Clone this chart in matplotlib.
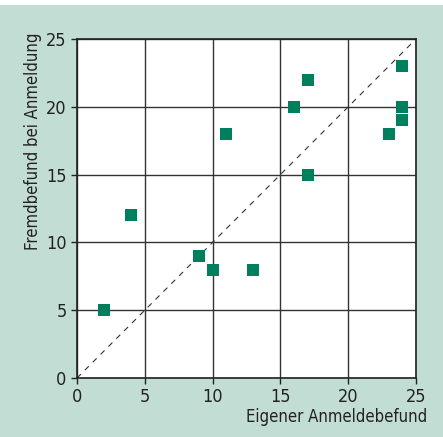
import matplotlib.pyplot as plt
from matplotlib.patches import Rectangle

# Daten
eigen = [2, 4, 9, 10, 11, 13, 16, 17, 17, 23, 24, 24, 24]
fremd = [5, 12, 9, 8, 18, 8, 20, 22, 15, 18, 23, 20, 19]
ticks = [0, 5, 10, 15, 20, 25]

plt.rcParams['font.family'] = ['DejaVu Sans']
plt.rcParams['font.stretch'] = 'condensed'

bg = '#c2ddd4'
fig = plt.figure(figsize=(4.43, 4.37), dpi=100, facecolor=bg)
fig.patches.append(Rectangle((0, 1 - 5 / 437), 1, 5 / 437, transform=fig.transFigure,
                             facecolor='white', edgecolor='none', zorder=0))
ax = fig.add_axes([77 / 443, 59 / 437, 339 / 443, 339 / 437])

ax.set_xlim(0, 25)
ax.set_ylim(0, 25)
ax.set_xticks(ticks)
ax.set_yticks(ticks)
ax.grid(True, color='#333333', linewidth=1.0)
ax.set_axisbelow(True)

ax.plot([0, 25], [0, 25], color='#333333', linestyle=(0, (5, 5)), linewidth=0.8, zorder=2)
ax.scatter(eigen, fremd, marker='s', s=78, color='#007f5f', linewidths=0, zorder=3)

for s in ax.spines.values():
    s.set_color('#222222')
    s.set_linewidth(1.2)
ax.tick_params(labelsize=13, colors='#222222', length=4, width=1)

ax.set_xlabel('Eigener Anmeldebefund', fontsize=12, color='#222222')
ax.xaxis.set_label_coords(1.032, -0.088)
ax.xaxis.label.set_ha('right')
ax.set_ylabel('Fremdbefund bei Anmeldung', fontsize=12, color='#222222')
ax.yaxis.set_label_coords(-0.155, 1.02)
ax.yaxis.label.set_va('top')
ax.yaxis.label.set_ha('right')

fig.savefig('out.png', dpi=100, facecolor=bg)
